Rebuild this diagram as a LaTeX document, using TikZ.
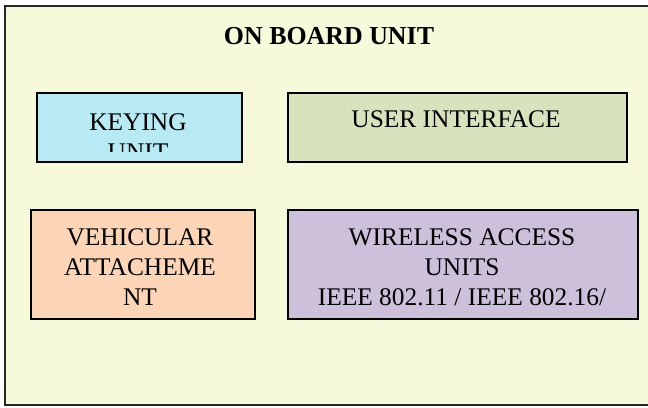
\documentclass[tikz,border=0pt]{standalone}
\usepackage{fontspec}
\setmainfont{Liberation Serif}
\definecolor{panel}{RGB}{247,250,218}
\definecolor{keyfill}{RGB}{184,234,243}
\definecolor{uifill}{RGB}{215,227,188}
\definecolor{vehfill}{RGB}{251,213,181}
\definecolor{wirefill}{RGB}{204,192,218}
\begin{document}
\begin{tikzpicture}[x=1bp,y=-1bp,
  unitbox/.style={draw=black, line width=1.6bp, inner sep=0pt, anchor=north west},
  lbl/.style={font=\fontsize{25.5}{30}\selectfont, inner sep=0pt, anchor=base},
  heading/.style={font=\bfseries\fontsize{26}{30}\selectfont, inner sep=0pt, anchor=base}]
\useasboundingbox (0,0) rectangle (648,407);
% outer panel, open on the right
\fill[panel] (5,6) rectangle (648,405);
\draw[line width=1.2bp, black!85] (648,6) -- (5,6) -- (5,405) -- (648,405);
\node[heading] (title) at (329,44) {ON BOARD UNIT};
% keying unit, its second line cut off by the frame
\node[unitbox, fill=keyfill, minimum width=205bp, minimum height=69bp] (key) at (36,92) {};
\begin{scope}
  \clip (36,92) rectangle (241,151);
  \node[lbl] (keyA) at (138,130) {KEYING};
  \node[lbl] (keyB) at (138,160) {UNIT};
\end{scope}
% user interface
\node[unitbox, fill=uifill, minimum width=339bp, minimum height=69bp] (ui) at (287,92) {};
\node[lbl] (uiA) at (456,127) {USER INTERFACE};
% vehicular attachment
\node[unitbox, fill=vehfill, minimum width=224bp, minimum height=109bp] (veh) at (30,209) {};
\node[lbl] (vehA) at (140,245) {VEHICULAR};
\node[lbl] (vehB) at (140,275) {ATTACHEME};
\node[lbl] (vehC) at (140,305) {NT};
% wireless access units
\node[unitbox, fill=wirefill, minimum width=350bp, minimum height=109bp] (wire) at (287,209) {};
\node[lbl] (wireA) at (462,245) {WIRELESS ACCESS};
\node[lbl] (wireB) at (462,275) {UNITS};
\node[lbl] (wireC) at (462,305) {IEEE 802.11 / IEEE 802.16/};
\end{tikzpicture}
\end{document}
